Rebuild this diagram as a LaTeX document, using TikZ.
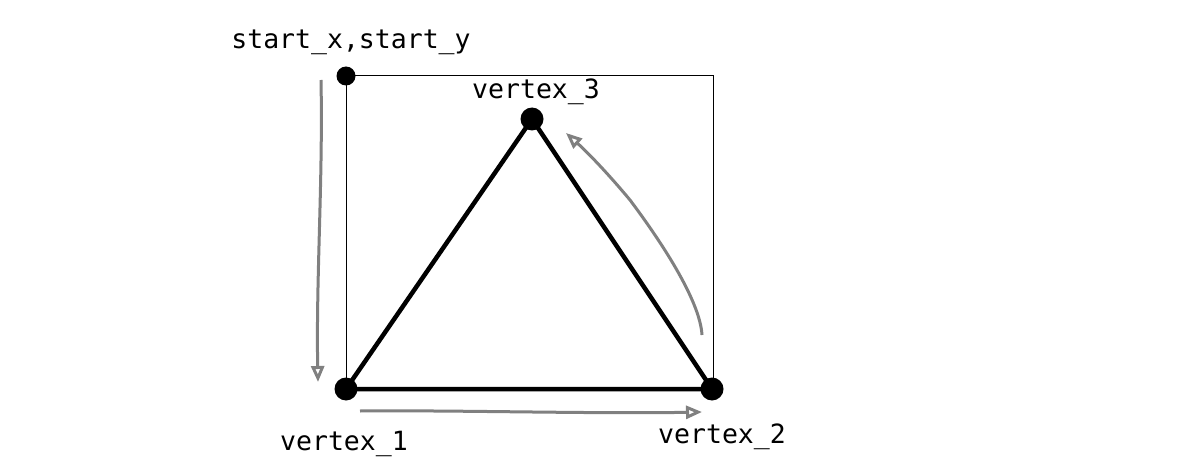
\documentclass[tikz,border=0pt]{standalone}
\usepackage{fontspec}
\setmonofont{DejaVu Sans Mono}
\usetikzlibrary{arrows.meta}
\begin{document}
\begin{tikzpicture}[x=1pt,y=-1pt,
  dot/.style={circle,fill=black,inner sep=0pt,minimum size=#1},
  lbl/.style={font=\ttfamily\fontsize{26.5}{30}\selectfont,inner sep=0pt,anchor=center},
  edge/.style={line width=4.5pt},
  hand/.style={draw=gray,line width=3pt,-{Triangle[open,length=16pt,width=13pt]}}]
\useasboundingbox (0,0) rectangle (1194,476);
\node[dot=19pt] (s) at (346,76) {};
\coordinate (tr) at (713,76);
\coordinate (br) at (713,389);
\node[dot=23pt] (v1) at (346,389) {};
\node[dot=23pt] (v2) at (712,389) {};
\node[dot=23pt] (v3) at (532,119) {};
\draw[line width=1pt] (s.center) -- (tr) -- (br);
\draw[line width=1pt] (s.center) -- (v1.center);
\draw[edge,line join=round] (v1.center) -- (v2.center) -- (v3.center) -- cycle;
\node[lbl] (ls) at (351,42) {start\_x,start\_y};
\node[lbl] (l3) at (536,92) {vertex\_3};
\node[lbl] (l1) at (344,444) {vertex\_1};
\node[lbl] (l2) at (722,437) {vertex\_2};
\coordinate (a1s) at (321,80); \coordinate (a1e) at (318,382);
\coordinate (a2s) at (360,411); \coordinate (a2e) at (702,412);
\coordinate (a3s) at (702,335); \coordinate (a3e) at (566,133);
\draw[hand] (a1s) .. controls (323,180) and (316,280) .. (a1e);
\draw[hand] (a2s) .. controls (450,410) and (600,414) .. (a2e);
\draw[hand] (a3s) .. controls (700,300) and (660,240) .. (630,200) .. controls (605,170) and (585,150) .. (a3e);
\end{tikzpicture}
\end{document}
